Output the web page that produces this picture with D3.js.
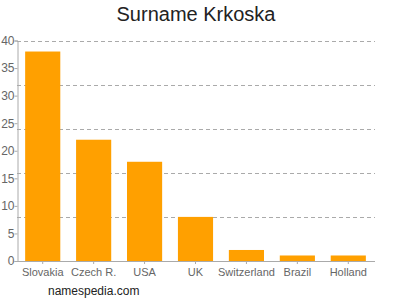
<!DOCTYPE html>
<html><head><meta charset="utf-8">
<script src="https://cdn.jsdelivr.net/npm/d3@7"></script>
<style>body{margin:0;background:#fff}svg{display:block}text{font-family:Arial,"Liberation Sans",sans-serif}</style>
</head><body>
<script>
const categories = ["Slovakia","Czech R.","USA","UK","Switzerland","Brazil","Holland"];
const values = [38,22,18,8,2,1,1];
const yTicks = [0,5,10,15,20,25,30,35,40];
const gridValues = [8,16,24,32,40];

const W=400,H=300;
const svg=d3.select("body").append("svg").attr("width",W).attr("height",H);
const x=d3.scaleBand().domain(categories).range([17,374]).paddingInner(0.31).paddingOuter(0.16);
const y=d3.scaleLinear().domain([0,40]).range([261,40.5]);

svg.append("text").attr("x",196).attr("y",21).attr("text-anchor","middle")
  .attr("font-size",20).attr("fill","#222").text("Surname Krkoska");

svg.selectAll("line.grid").data(gridValues).join("line").attr("class","grid")
  .attr("x1",17).attr("x2",375).attr("y1",d=>Math.round(y(d))+0.5).attr("y2",d=>Math.round(y(d))+0.5)
  .attr("stroke","#aaa").attr("stroke-dasharray","4,3").attr("stroke-width",1);

svg.selectAll("rect.bar").data(values).join("rect").attr("class","bar")
  .attr("x",(d,i)=>x(categories[i])).attr("width",x.bandwidth())
  .attr("y",d=>y(d)).attr("height",d=>y(0)-y(d)).attr("fill","#FFA000");

const ya=svg.append("g").attr("transform","translate(17.5,0)")
  .call(d3.axisLeft(y).tickValues(yTicks).tickSize(3).tickPadding(0));
ya.select(".domain").attr("stroke","#aaa");
ya.selectAll(".tick line").attr("stroke","#aaa");
ya.selectAll("text").attr("font-size",12).attr("fill","#666").style("font-family","Arial,'Liberation Sans',sans-serif");

const xa=svg.append("g").attr("transform","translate(0,261)")
  .call(d3.axisBottom(x).tickSize(3).tickSizeOuter(0).tickPadding(4));
xa.select(".domain").attr("stroke","#aaa").attr("d","M17,0.5H375");
xa.selectAll(".tick line").attr("stroke","#aaa");
xa.selectAll("text").attr("font-size",11).attr("fill","#666").style("font-family","Arial,'Liberation Sans',sans-serif");

svg.append("text").attr("x",48).attr("y",295).attr("font-size",12).attr("fill","#222").text("namespedia.com");
</script>
</body></html>
